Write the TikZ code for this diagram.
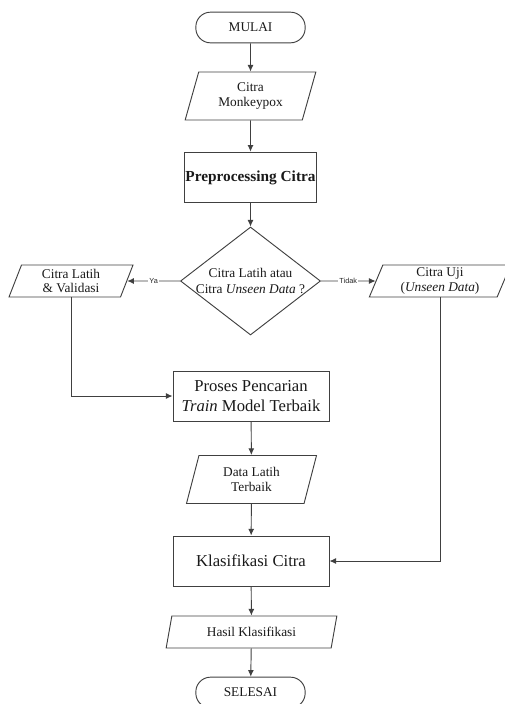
\documentclass[tikz,border=0pt]{standalone}
\usepackage{fontspec}
\setmainfont{Liberation Serif}
\setsansfont{Liberation Sans}
\usetikzlibrary{shapes.geometric,arrows.meta}

\tikzset{
    base/.style={draw=black!75, line width=0.7pt, align=center, inner sep=1pt, text=black!90},
    term/.style={base, rounded corners=11pt, minimum width=82pt, minimum height=23pt, font=\fontsize{10}{11}\selectfont},
    proc/.style={base, minimum width=117pt, minimum height=37.5pt, font=\fontsize{12.5}{15}\selectfont},
    io/.style={base, trapezium, trapezium left angle=65, trapezium right angle=115, trapezium stretches body, font=\fontsize{10}{11}\selectfont},
    dec/.style={base, diamond, minimum width=105pt, minimum height=81pt, inner sep=0pt},
    lbl/.style={fill=white, inner sep=1pt, text=black!85, font=\sffamily\fontsize{5.5}{6}\selectfont},
}

\begin{document}
\begin{tikzpicture}[>={Latex[length=5pt,width=4.5pt]}, x=0.75pt, y=-0.75pt, line width=0.7pt, draw=black!75]
\useasboundingbox (0,0) rectangle (505,704);

\node[term] (start) at (250.5,27.5) {MULAI};
\node[io, minimum width=98pt, minimum height=36pt] (input) at (250.5,96) {Citra\\Monkeypox};
\node[proc, minimum width=98pt, minimum height=38pt, font=\fontsize{11.5}{14}\selectfont\bfseries] (prep) at (250.5,177.5) {Preprocessing Citra};
\node[dec] (cek) at (250.5,281) {};
\node[align=center, inner sep=0pt, text=black!90, font=\fontsize{10}{11.5}\selectfont] (cektext) at (cek) {Citra Latih atau\\Citra \textit{Unseen Data} ?};
\node[io, minimum width=93pt, minimum height=24pt] (latih) at (71,281) {Citra Latih\\\& Validasi};
\node[io, minimum width=106pt, minimum height=24pt] (uji) at (440,281) {Citra Uji\\(\textit{Unseen Data})};
\node[proc] (cari) at (251,396) {Proses Pencarian\\\textit{Train} Model Terbaik};
\node[io, minimum width=97.5pt, minimum height=36pt] (terbaik) at (251.5,479.5) {Data Latih\\Terbaik};
\node[proc] (klas) at (251,561) {Klasifikasi Citra};
\node[io, minimum width=128pt, minimum height=24pt] (hasil) at (251.5,632) {Hasil Klasifikasi};
\node[term] (stop) at (250.5,692.5) {SELESAI};

% alur utama
\draw[->] (start) -- (input);
\draw[->] (input) -- (prep);
\draw[->] (prep) -- (cek);
\draw[->] (cek) -- node[lbl]{Ya} (latih);
\draw[->] (cek) -- node[lbl]{Tidak} (uji);
\draw[->] (latih) |- (cari);
\draw[->] (cari) -- (terbaik);
\draw[->] (terbaik) -- (klas);
\draw[->] (uji) |- (klas);
\draw[->] (klas) -- (hasil);
\draw[->] (hasil) -- (stop);

\end{tikzpicture}
\end{document}
